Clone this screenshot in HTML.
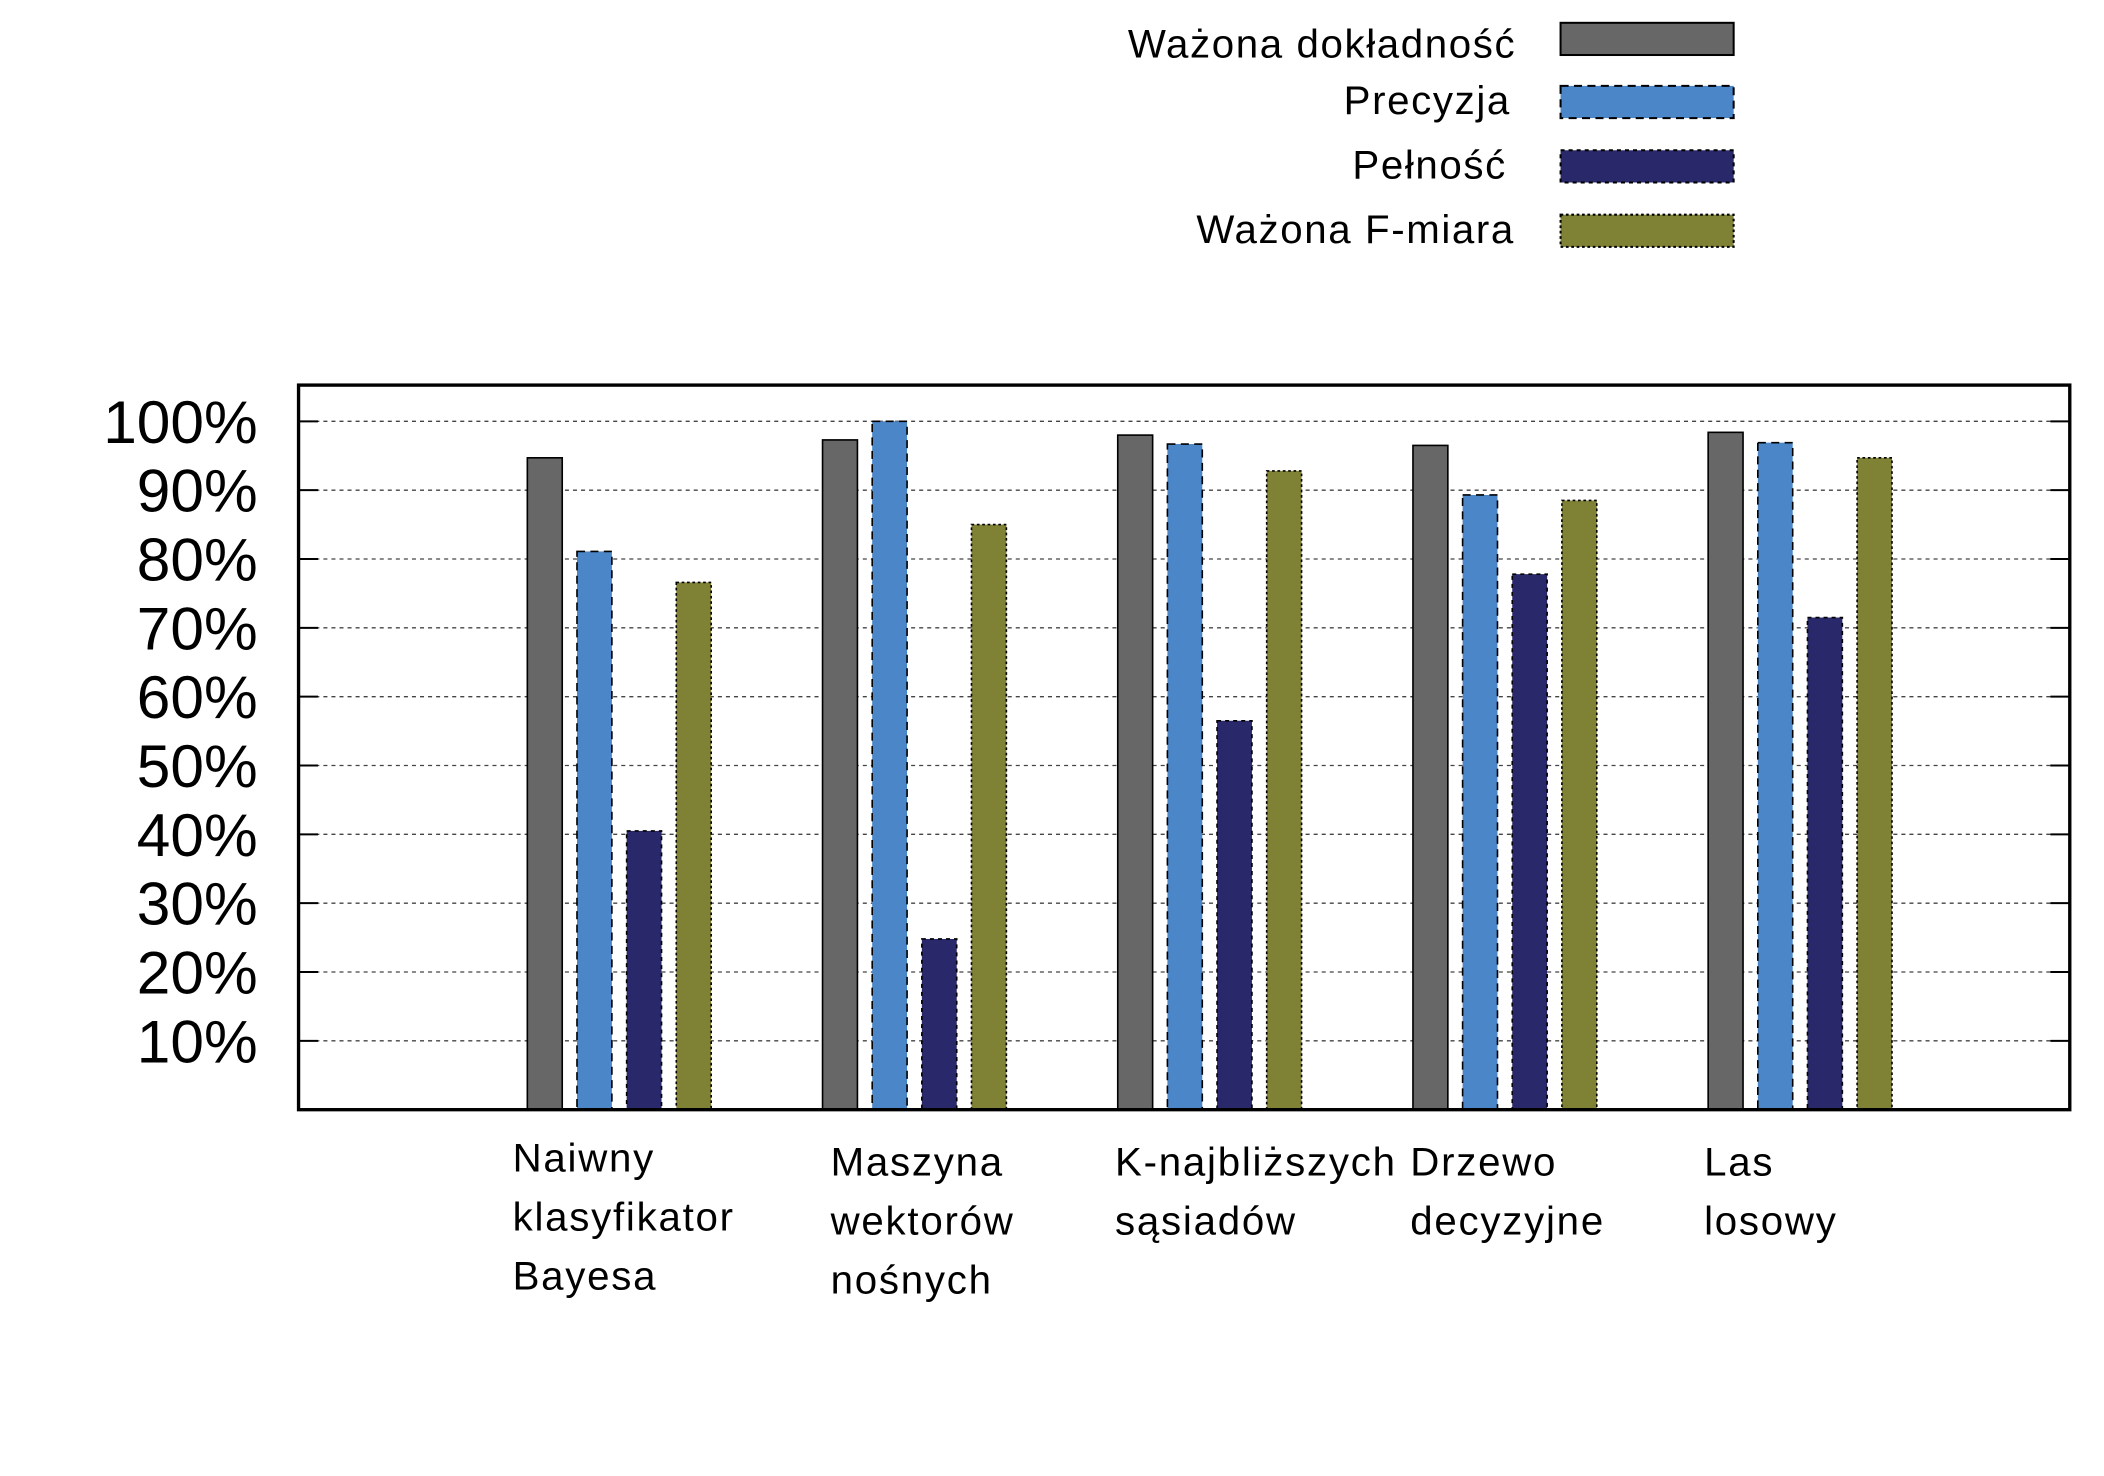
<!DOCTYPE html>
<html><head><meta charset="utf-8"><style>
html,body{margin:0;padding:0;background:#fff}
svg{display:block}
text{font-family:"Liberation Sans","DejaVu Sans",sans-serif}
</style></head><body>
<svg id="chart" width="2104" height="1476" viewBox="0 0 1568 1100" preserveAspectRatio="none" xmlns="http://www.w3.org/2000/svg">
<g id="grid"></g>
<g id="bars"></g>
<rect x="222.5" y="287" width="1320" height="540" fill="none" stroke="#000" stroke-width="2.5"/>
<g id="yaxis"></g>
<g id="xaxis"></g>
<g id="legend"></g>
</svg>
<script>
const categories = [["Naiwny","klasyfikator","Bayesa"],["Maszyna","wektorów","nośnych"],["K-najbliższych","sąsiadów"],["Drzewo","decyzyjne"],["Las","losowy"]];
const seriesNames = ["Ważona dokładność","Precyzja","Pełność","Ważona F-miara"];
const accuracy = [94.7, 97.3, 98.0, 96.5, 98.4];
const precision = [81.1, 100, 96.7, 89.3, 96.9];
const recall = [40.5, 24.8, 56.5, 77.8, 71.5];
const fmeasure = [76.6, 85.0, 92.8, 88.5, 94.7];
const yTicks = [10,20,30,40,50,60,70,80,90,100];

const NS = "http://www.w3.org/2000/svg";
const series = [accuracy, precision, recall, fmeasure];
const fills = ["#676767","#4a86c8","#29286a","#7f8134"];
const dashes = ["none","6,4","3,3","2,2"];
const y = v => 827 - v * 5.13;
const xCenter = i => 461 + i * 220;
const barW = 26, pitch = 37;
function mk(tag, attrs, parent){const e=document.createElementNS(NS,tag);for(const k in attrs)e.setAttribute(k,attrs[k]);parent.appendChild(e);return e;}
const grid=document.getElementById('grid'), bars=document.getElementById('bars'), ya=document.getElementById('yaxis'), xa=document.getElementById('xaxis'), lg=document.getElementById('legend');
yTicks.forEach(t=>{
  const l=mk('line',{x1:223,x2:1542,y1:y(t),y2:y(t),stroke:'#444','stroke-width':1,'stroke-dasharray':'3,3'},grid);
  
  
  mk('line',{x1:223,x2:237,y1:y(t),y2:y(t),stroke:'#000','stroke-width':1.5},ya);
  mk('line',{x1:1528,x2:1542,y1:y(t),y2:y(t),stroke:'#000','stroke-width':1.5},ya);
  const tx=mk('text',{x:192,y:y(t)+16,'text-anchor':'end','font-size':45,fill:'#000'},ya);
  tx.textContent=t+'%';
  
  
});
series.forEach((s,si)=>{
  s.forEach((v,ci)=>{
    const x=xCenter(ci)-68+si*pitch;
    const r=mk('rect',{x:x,y:y(v),width:barW,height:827-y(v),fill:fills[si],stroke:'#000','stroke-width':1.2,'stroke-dasharray':dashes[si]},bars);
    
    
  });
});
categories.forEach((lines,ci)=>{
  const lx=[382,619,831,1051,1270][ci];
  const top=ci===0?873:876;
  lines.forEach((ln,li)=>{
    const t=mk('text',{x:lx,y:top+li*44,'font-size':30,'letter-spacing':1.3,fill:'#000'},xa);
    t.textContent=ln;
    
    
  });
});
const legY=[17,64,112,160], legTY=[43,85,133,181], legTX=[1130,1126,1123,1129];
seriesNames.forEach((n,i)=>{
  const t=mk('text',{x:legTX[i],y:legTY[i],'text-anchor':'end','font-size':30,'letter-spacing':1.2,fill:'#000'},lg);
  t.textContent=n;
  
  
  const r=mk('rect',{x:1163,y:legY[i],width:129,height:24,fill:fills[i],stroke:'#000','stroke-width':1.5,'stroke-dasharray':dashes[i]},lg);
  
  
});
</script>
</body></html>
